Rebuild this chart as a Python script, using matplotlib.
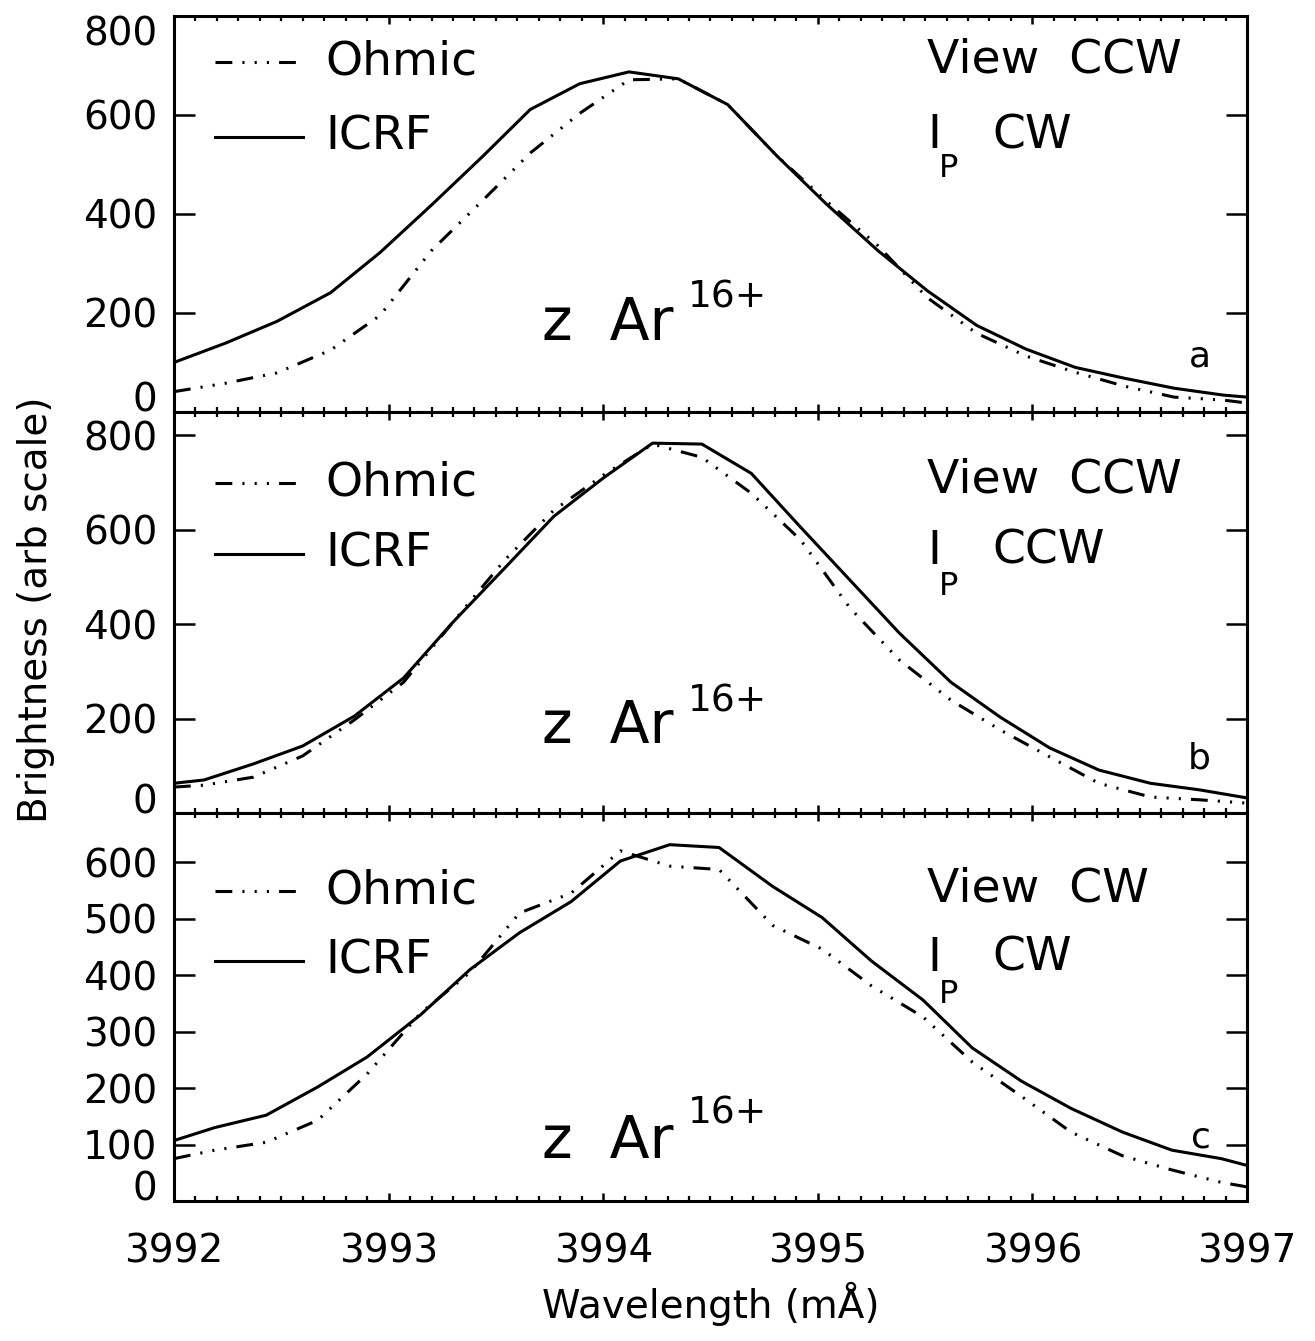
import numpy as np
import matplotlib
matplotlib.use('Agg')
import matplotlib.pyplot as plt
from matplotlib.ticker import MultipleLocator

plt.rcParams['font.family'] = ['DejaVu Sans']

# ---- data (wavelength in mA, brightness arb.) ----
xa = [3992.00, 3992.24, 3992.48, 3992.73, 3992.96, 3993.20, 3993.44, 3993.66,
      3993.89, 3994.12, 3994.35, 3994.58, 3994.81, 3995.04, 3995.28, 3995.51,
      3995.74, 3995.97, 3996.20, 3996.43, 3996.66, 3996.89, 3997.00]
icrf_a = [100, 139, 183, 241, 322, 418, 517, 611, 663, 687, 673, 621, 517, 420,
          326, 245, 175, 127, 90, 68, 48, 34, 30]
ohmic_a = [41, 58, 79, 125, 195, 326, 428, 523, 603, 671, 673, 621, 517, 426,
           336, 231, 159, 113, 80, 52, 30, 24, 18]

xb = [3992.00, 3992.14, 3992.37, 3992.60, 3992.84, 3993.07, 3993.30, 3993.54,
      3993.77, 3994.00, 3994.23, 3994.46, 3994.69, 3994.92, 3995.15, 3995.38,
      3995.62, 3995.85, 3996.08, 3996.31, 3996.55, 3996.78, 3997.00]
icrf_b = [63, 70, 104, 142, 205, 286, 404, 518, 628, 709, 783, 781, 719, 605,
          493, 381, 277, 203, 138, 91, 63, 49, 32]
ohmic_b = [55, 59, 76, 121, 197, 277, 404, 535, 641, 715, 781, 753, 677, 578,
           434, 324, 239, 176, 119, 63, 34, 28, 21]

xc = [3992.00, 3992.19, 3992.43, 3992.67, 3992.90, 3993.15, 3993.38, 3993.61,
      3993.85, 3994.08, 3994.31, 3994.54, 3994.79, 3995.02, 3995.25, 3995.49,
      3995.72, 3995.95, 3996.18, 3996.42, 3996.65, 3996.88, 3997.00]
icrf_c = [107, 130, 152, 202, 255, 330, 410, 475, 530, 602, 631, 626, 557, 502,
          425, 356, 271, 212, 164, 122, 90, 75, 63]
ohmic_c = [75, 90, 104, 143, 225, 333, 405, 510, 545, 620, 593, 587, 488, 446,
           381, 326, 246, 185, 122, 80, 55, 33, 25]

panels = [
    dict(x=xa, icrf=icrf_a, ohm=ohmic_a, ylim=(0, 800), yt=[0, 200, 400, 600, 800],
         view='View  CCW', ip='CW', tag='a',
         leg=(0.884, 0.694), right=(0.889, 0.697, 0.616), zy=(0.182, 0.265), tagy=0.114),
    dict(x=xb, icrf=icrf_b, ohm=ohmic_b, ylim=(0, 849), yt=[0, 200, 400, 600, 800],
         view='View  CCW', ip='CCW', tag='b',
         leg=(0.823, 0.646), right=(0.830, 0.653, 0.564), zy=(0.175, 0.252), tagy=0.112),
    dict(x=xc, icrf=icrf_c, ohm=ohmic_c, ylim=(0, 687), yt=[0, 100, 200, 300, 400, 500, 600],
         view='View  CW', ip='CW', tag='c',
         leg=(0.799, 0.619), right=(0.804, 0.626, 0.533), zy=(0.111, 0.201), tagy=0.139),
]

fig = plt.figure(figsize=(13.15, 13.41), dpi=100)
boxes = [(0.1323, 0.6928, 0.816, 0.2953),
         (0.1323, 0.3937, 0.816, 0.2991),
         (0.1323, 0.1044, 0.816, 0.2893)]

lw = 2.2
ohm_ls = (0, (5.5, 3.3, 0.7, 3.3, 0.7, 3.3, 0.7, 3.3))
fs = 28
tfs = 34

for i, (p, box) in enumerate(zip(panels, boxes)):
    ax = fig.add_axes(box)
    ax.plot(p['x'], p['ohm'], color='black', lw=lw, ls=ohm_ls)
    ax.plot(p['x'], p['icrf'], color='black', lw=lw, ls='-')
    ax.set_xlim(3992, 3997)
    ax.set_ylim(*p['ylim'])
    for s in ax.spines.values():
        s.set_linewidth(2.2)

    ax.xaxis.set_major_locator(MultipleLocator(1))
    ax.xaxis.set_minor_locator(MultipleLocator(0.1))
    ax.tick_params(axis='x', which='major', direction='in', length=6, width=1.8,
                   top=True, bottom=True, labelsize=fs, pad=23)
    ax.tick_params(axis='x', which='minor', direction='in', length=3.5, width=1.6,
                   top=True, bottom=True)
    ax.tick_params(axis='y', which='major', direction='in', length=15, width=1.8,
                   left=True, right=True, labelsize=fs, pad=12)
    ax.yaxis.set_minor_locator(plt.NullLocator())
    ax.set_yticks(p['yt'], [str(v) for v in p['yt']])
    labels = ax.get_yticklabels()
    labels[0].set_va('baseline')
    if i == 0:
        labels[-1].set_va('top')
    if i < 2:
        ax.tick_params(axis='x', labelbottom=False)
    else:
        ax.set_xticks([3992, 3993, 3994, 3995, 3996, 3997],
                      ['3992', '3993', '3994', '3995', '3996', '3997'])

    # legend drawn by hand
    yo, yi = p['leg']
    ax.plot([0.038, 0.120], [yo, yo], transform=ax.transAxes, color='black', lw=lw, ls=ohm_ls)
    ax.plot([0.038, 0.120], [yi, yi], transform=ax.transAxes, color='black', lw=lw, ls='-')
    ax.text(0.141, yo, 'Ohmic', transform=ax.transAxes, fontsize=tfs, va='center', ha='left')
    ax.text(0.141, yi, 'ICRF', transform=ax.transAxes, fontsize=tfs, va='center', ha='left')

    # right-hand annotations
    yv, yc, yp = p['right']
    ax.text(0.702, yv, p['view'], transform=ax.transAxes, fontsize=tfs, va='center', ha='left')
    ax.text(0.702, yc, 'I', transform=ax.transAxes, fontsize=tfs, va='center', ha='left')
    ax.text(0.713, yp, 'P', transform=ax.transAxes, fontsize=23, va='center', ha='left')
    ax.text(0.763, yc, p['ip'], transform=ax.transAxes, fontsize=tfs, va='center', ha='left')

    # ion label
    zb, sb = p['zy']
    ax.text(0.343, zb, 'z  Ar', transform=ax.transAxes, fontsize=42, va='baseline', ha='left')
    ax.text(0.479, sb, '16+', transform=ax.transAxes, fontsize=27, va='baseline', ha='left')

    ax.text(0.966, p['tagy'], p['tag'], transform=ax.transAxes, fontsize=26,
            va='baseline', ha='right')

fig.text(0.5405, 0.028, 'Wavelength (mÅ)', fontsize=fs, ha='center', va='center')
fig.text(0.027, 0.545, 'Brightness (arb scale)', fontsize=fs, rotation=90,
         ha='center', va='center')

fig.savefig('out.png', dpi=100)
